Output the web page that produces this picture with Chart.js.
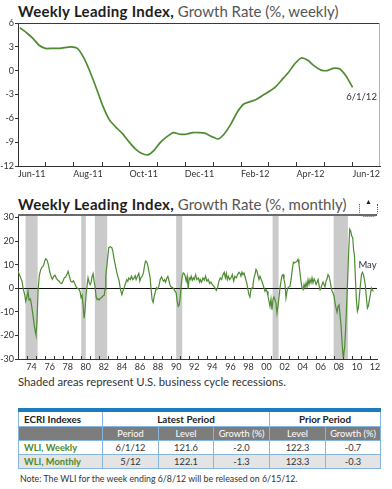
<!DOCTYPE html>
<html>
<head>
<meta charset="utf-8">
<script src="https://cdn.jsdelivr.net/npm/chart.js@4.4.1/dist/chart.umd.min.js"></script>
<style>
  body { margin: 0; width: 392px; height: 489px; background: #fff; position: relative; overflow: hidden; font-family: Lato, "Open Sans", sans-serif; }
  .title { position: absolute; left: 18px; font-size: 15px; color: #555; white-space: nowrap; line-height: 18px; }
  .title b { color: #1d1d1d; font-weight: 700; letter-spacing: 0.3px; }
  canvas { position: absolute; left: 0; }
  #cap { position: absolute; left: 18px; top: 375px; font-size: 11.3px; color: #333; white-space: nowrap; }
  #badge { position: absolute; left: 359px; top: 204px; width: 17px; height: 12px; border: 1px dotted #555; border-top: none; border-radius: 0 0 5px 5px; }
  #badge span { position: absolute; left: 5px; top: -7px; font-size: 7px; color: #222; }
  table { position: absolute; left: 18px; top: 408px; width: 362px; border-collapse: collapse; table-layout: fixed; font-size: 9.3px; color: #333; border-top: 4px solid #1b7bc4; }
  td { border: 1px solid #86b6de; text-align: center; padding: 0; height: 13px; }
  tr.h1 td { font-weight: 700; font-size: 9.8px; color: #222; height: 14px; }
  tr.h2 td { background: #7d7d7d; color: #fff; }
  tr.r2 td { background: #e4e4e4; }
  td.nm { text-align: left; padding-left: 5px; font-weight: 700; color: #4c8a2e; }
  tr.h1 td.nm { color: #222; }
  #note { position: absolute; left: 20px; top: 473px; font-size: 8.8px; color: #333; white-space: nowrap; }
</style>
</head>
<body>
<div class="title" style="top:1.5px"><b>Weekly Leading Index,</b> Growth Rate (%, weekly)</div>
<canvas id="weekly" width="392" height="182" style="top:0"></canvas>

<div class="title" style="top:194.5px"><b>Weekly Leading Index,</b> Growth Rate (%, monthly)</div>
<canvas id="monthly" width="392" height="182" style="top:190px"></canvas>
<div id="badge"><span>&#9650;</span></div>

<div id="cap">Shaded areas represent U.S. business cycle recessions.</div>

<table>
  <colgroup><col style="width:84px"><col style="width:56px"><col style="width:55px"><col style="width:56px"><col style="width:56px"><col style="width:55px"></colgroup>
  <tr class="h1"><td class="nm">ECRI Indexes</td><td colspan="3">Latest Period</td><td colspan="2">Prior Period</td></tr>
  <tr class="h2"><td></td><td>Period</td><td>Level</td><td>Growth (%)</td><td>Level</td><td>Growth (%)</td></tr>
  <tr class="r1"><td class="nm">WLI, Weekly</td><td>6/1/12</td><td>121.6</td><td>-2.0</td><td>122.3</td><td>-0.7</td></tr>
  <tr class="r2"><td class="nm">WLI, Monthly</td><td>5/12</td><td>122.1</td><td>-1.3</td><td>123.3</td><td>-0.3</td></tr>
</table>
<div id="note">Note: The WLI for the week ending 6/8/12 will be released on 6/15/12.</div>

<script>
// weekly growth rate, one value per week starting 6/3/11
const weeklyStart = [2011, 5, 3];
const weeklyValues = [5.4, 4.8, 4.1, 3.2, 2.8, 2.8, 2.8, 2.9, 3.0, 2.8, 1.6, -0.2, -2.3, -4.5, -6.2, -7.1, -7.9, -8.9,
  -9.8, -10.4, -10.6, -10.0, -9.0, -8.3, -7.8, -8.0, -8.0, -7.8, -7.8, -7.9, -8.3, -8.6, -7.9, -6.7, -5.2, -4.2,
  -3.9, -3.6, -3.1, -2.6, -2.0, -1.1, -0.2, 0.9, 1.6, 1.3, 0.6, 0.1, 0.0, 0.3, 0.2, -0.7, -2.1];
const weeklyMonthLabels = ['Jun-11', 'Aug-11', 'Oct-11', 'Dec-11', 'Feb-12', 'Apr-12', 'Jun-12'];
const weeklyYTicks = [-12, -9, -6, -3, 0, 3, 6];
const weeklyEndLabel = '6/1/12';

// monthly growth rate (decimal year, value)
const monthlyYears = [1973.00, 1973.15, 1973.30, 1973.44, 1973.59, 1973.74, 1973.85, 1974.00, 1974.11, 1974.22, 1974.37,
  1974.51, 1974.66, 1974.81, 1974.92, 1974.99, 1975.10, 1975.22, 1975.36, 1975.51, 1975.66, 1975.81, 1975.95, 1976.06,
  1976.21, 1976.36, 1976.51, 1976.66, 1976.80, 1976.95, 1977.10, 1977.25, 1977.39, 1977.54, 1977.69, 1977.84, 1977.99,
  1978.13, 1978.28, 1978.43, 1978.54, 1978.69, 1978.83, 1978.98, 1979.13, 1979.28, 1979.43, 1979.57, 1979.72, 1979.87,
  1979.98, 1980.09, 1980.20, 1980.31, 1980.42, 1980.53, 1980.64, 1980.75, 1980.87, 1980.98, 1981.09, 1981.20, 1981.31,
  1981.42, 1981.53, 1981.64, 1981.75, 1981.86, 1981.97, 1982.08, 1982.23, 1982.38, 1982.53, 1982.64,
  1982.71, 1982.90, 1983.04, 1983.23, 1983.38, 1983.49, 1983.60, 1983.75, 1983.90, 1984.04, 1984.19, 1984.34, 1984.49,
  1984.59, 1984.74, 1984.89, 1985.04, 1985.15, 1985.26, 1985.41, 1985.56, 1985.70, 1985.85, 1985.96, 1986.07, 1986.22,
  1986.37, 1986.48, 1986.59, 1986.74, 1986.88, 1986.99, 1987.11, 1987.25, 1987.36, 1987.48, 1987.62, 1987.73, 1987.84,
  1987.95, 1988.07, 1988.21, 1988.32, 1988.44, 1988.59, 1988.73, 1988.88, 1988.99, 1989.10, 1989.21, 1989.32, 1989.47,
  1989.58, 1989.69, 1989.80, 1989.91, 1990.06, 1990.17, 1990.28, 1990.39, 1990.50, 1990.61, 1990.73, 1990.84, 1990.95,
  1991.06, 1991.17, 1991.28, 1991.39, 1991.50, 1991.61, 1991.72, 1991.83, 1991.94, 1992.05, 1992.16, 1992.28, 1992.39,
  1992.50, 1992.65, 1992.79, 1992.94, 1993.09,
  1993.16, 1993.31, 1993.46, 1993.61, 1993.75, 1993.90, 1994.05, 1994.20, 1994.34, 1994.49, 1994.64, 1994.79, 1994.94,
  1995.08, 1995.23, 1995.38, 1995.53, 1995.68, 1995.82, 1995.94, 1996.05, 1996.16, 1996.27, 1996.41, 1996.56, 1996.71,
  1996.86, 1997.00, 1997.15, 1997.30, 1997.45, 1997.56, 1997.67, 1997.78, 1997.89, 1998.00, 1998.11, 1998.22, 1998.33,
  1998.44, 1998.55, 1998.66, 1998.77, 1998.89, 1999.00, 1999.11, 1999.22, 1999.33, 1999.44, 1999.55, 1999.66, 1999.77,
  1999.88, 1999.99, 2000.10, 2000.21, 2000.33, 2000.44, 2000.55, 2000.66, 2000.77, 2000.88, 2000.99, 2001.10, 2001.21,
  2001.32, 2001.43, 2001.54, 2001.65, 2001.77, 2001.88, 2001.99, 2002.10, 2002.21, 2002.32, 2002.43, 2002.54, 2002.65,
  2002.76, 2002.87, 2002.98,
  2003.10, 2003.24, 2003.35, 2003.47, 2003.61, 2003.76, 2003.87, 2003.98, 2004.09, 2004.20, 2004.31, 2004.43, 2004.54,
  2004.65, 2004.76, 2004.87, 2004.98, 2005.09, 2005.20, 2005.31, 2005.42, 2005.53, 2005.64, 2005.76, 2005.87, 2005.98,
  2006.09, 2006.20, 2006.31, 2006.42, 2006.53, 2006.64, 2006.75, 2006.86, 2006.97, 2007.08, 2007.19, 2007.30, 2007.41,
  2007.53, 2007.64, 2007.75, 2007.86, 2007.97, 2008.08, 2008.19, 2008.30, 2008.41, 2008.52, 2008.63, 2008.75, 2008.86,
  2008.97, 2009.04, 2009.15, 2009.26, 2009.37, 2009.48, 2009.59, 2009.70, 2009.81, 2009.92, 2010.03, 2010.14, 2010.22,
  2010.33, 2010.44, 2010.55, 2010.66, 2010.77, 2010.89, 2011.00, 2011.11, 2011.22, 2011.33, 2011.44, 2011.55, 2011.66,
  2011.77, 2011.88, 2011.99, 2012.10, 2012.21, 2012.33];
const monthlyValues = [7.3, 5.8, 4.4, 3.0, -0.5, -2.7, -5.5, -3.5, -1.3, -5.0, -4.5,
  -7.5, -11.5, -16, -18.5, -19.8, -14, -1.0, 5.5, 7.8, 9.0, 9.5, 11.5, 12.5,
  12.0, 10, 7, 5, 3.8, 5, 5.5, 4.2, 3.5, 3.0, 2.2, 2.0, 3.2,
  4.5, 4.8, 6, 7.2, 5, 3, 2.6, 3.2, 2, 0.6, 0, -0.3, -1.5,
  -4.0, -3.0, -7, -12.7, -9, -2.5, 1, 4.4, 2.5, 1.5, 2.5, 5, 6.2,
  3, 0.5, -3.5, -4.8, -4.5, -5.0, -4.3, -4, -3.3, -3, -0.5,
  5.1, 12.2, 17.2, 17.6, 17.2, 15.8, 13, 10.1, 7.3, 5.1, 3.0, -0.6, -2.7,
  -1.3, 0.2, 2, 3.7, 3, 4.4, 3.7, 5.1, 3.7, 4.4, 5.4, 3.7, 5.1,
  6.3, 3, 4.4, 5.1, 6.5, 9.4, 11.5, 11.1, 9.7, 7.3, 4.4, -0.6, -4.8,
  -6, -3.4, -1.3, 0.2, -0.3, 0.9, 3.7, 4.8, 3.7, 3, 3.7, 2.6, 4.4,
  5.1, 3.4, 1.6, 0.6, 0.4, 0, -0.6, -1.3, -2, -5.5, -7.7, -7, -3.7,
  1.6, 5.1, 6.5, 6.2, 5.1, 3, 5.1, -0.3, 4.4, 3.7, 5.1, 3.4, 4.4,
  3.7, 5.8, 3.7, 4.4, 2.6,
  3.7, 2.6, 4.4, 3.4, 5.1, 3, 3.7, 2, 2.6, 1.6, 0.9, 0.2, -0.9,
  0.2, 3, 4.4, 3.7, 5.8, 6.8, 4.4, 6.3, 3.7, 5.1, 3.7, 4.4, 5.8,
  3, 5.1, 4.4, 5.8, 6.8, 6.3, 5.1, 6.8, 5.8, 6.5, 5.1, 3.4, 2,
  -0.6, -2.7, -3.7, -0.6, 0.2, 1.6, 4.4, 5.8, 8, 7.3, 5.4, 3.7, 5.1,
  4, 3, 1.6, 0.2, -1.3, -0.6, -1.3, -3.4, -5.5, -7.7, -4.5, -9.1, -4.8,
  -3.7, -4.8, -6.3, -10.5, -7.4, -3.7, 0.2, 3, 5.4, 5.8, 3.7, 1.6, -4.1,
  -1.3, 0.2, 0.6,
  0.9, 4.4, 8, 11.1, 10.8, 11.1, 11.5, 12.2, 10.1, 6.5, 3, 0.1, -0.6,
  1.6, 0.2, 2.3, 0.6, 3.7, 1.6, 3.7, 2.3, 4.4, 2.3, 4, 3, 1.6,
  2.6, 3.7, 1.2, -0.6, 0.2, 1.6, 2.6, 1.6, 0.6, 3, 4, 5.8, 5.1,
  3, 0.6, -1.3, -2, -3.4, -6.3, -8.4, -10.2, -7.7, -7, -11.2, -16.2, -23.3,
  -29, -27.9, -24.8, -16.2, -6.3, 4.4, 15.8, 25, 24.3, 22.2, 21.5, 15.8, 14.4,
  4.4, -4.8, -9.8, -8.4, -3.4, 1.6, 5.8, 6.8, 5.8, 3.7, 0.9, -4.1, -8.4,
  -7.4, -4.8, -2.7, 0.1, -0.8, -1.3];
const recessionStarts = [1973.83, 1980.0, 1981.5, 1990.5, 2001.17, 2007.92];
const recessionEnds = [1975.17, 1980.5, 1982.87, 1991.17, 2001.83, 2009.5];
const monthlyYTicks = [-30, -20, -10, 0, 10, 20, 30];
const monthlyEndLabel = 'May';

const green = '#4d8c31';
const tickFont = { family: 'Lato, sans-serif', size: 9 };
const dayMs = 86400000;
const dayNum = (y, m, d) => Date.UTC(y, m, d) / dayMs;

// frame, shading and end labels
const decorPlugin = {
  id: 'decor',
  beforeDraw(chart, args, o) {
    if (!o.shadeStarts) return;
    const { ctx, chartArea: a } = chart;
    const xs = chart.scales.x;
    ctx.save();
    ctx.fillStyle = '#cacaca';
    o.shadeStarts.forEach((s, i) => {
      const x1 = xs.getPixelForValue(s), x2 = xs.getPixelForValue(o.shadeEnds[i]);
      ctx.fillRect(x1, a.top + o.topWidth, x2 - x1, a.bottom - a.top - o.topWidth);
    });
    ctx.restore();
  },
  afterDraw(chart, args, o) {
    const { ctx, chartArea: a } = chart;
    ctx.save();
    ctx.strokeStyle = o.topColor;
    ctx.lineWidth = o.topWidth;
    ctx.beginPath();
    ctx.moveTo(a.left, a.top + o.topWidth / 2);
    ctx.lineTo(a.right, a.top + o.topWidth / 2);
    ctx.stroke();
    if (o.rightColor) {
      ctx.strokeStyle = o.rightColor;
      ctx.lineWidth = 1;
      ctx.beginPath();
      ctx.moveTo(a.right - 0.5, a.top);
      ctx.lineTo(a.right - 0.5, a.bottom);
      ctx.stroke();
    }
    // label near the last point
    const pts = chart.getDatasetMeta(0).data;
    const last = pts[pts.length - 1];
    ctx.fillStyle = '#2f2f45';
    ctx.font = '9.5px Lato, sans-serif';
    ctx.textAlign = 'center';
    ctx.textBaseline = 'middle';
    const ly = o.labelValue !== undefined ? chart.scales.y.getPixelForValue(o.labelValue) : last.y + o.labelDy;
    ctx.fillText(o.label, last.x + o.labelDx, ly);
    ctx.restore();
  }
};

// ---- weekly chart ----
const wkStart = dayNum(2011, 5, 1), wkEnd = dayNum(2012, 6, 1);
const wkFirst = dayNum(weeklyStart[0], weeklyStart[1], weeklyStart[2]);
const weeklyPoints = weeklyValues.map((v, i) => ({ x: wkFirst + 7 * i, y: v }));

new Chart(document.getElementById('weekly'), {
  type: 'line',
  data: { datasets: [{ data: weeklyPoints, borderColor: green, borderWidth: 1.7, pointRadius: 0, tension: 0.2 }] },
  plugins: [decorPlugin],
  options: {
    responsive: false, animation: false,
    layout: { padding: { top: 23, right: 12, left: 0, bottom: 0 } },
    plugins: {
      legend: { display: false }, tooltip: { enabled: false },
      decor: { topColor: '#3a3a3a', topWidth: 1, rightColor: '#b5b5b5', label: weeklyEndLabel, labelDx: 9, labelDy: 10 }
    },
    scales: {
      x: {
        type: 'linear', min: wkStart, max: wkEnd,
        afterFit: s => { s.height = 16; },
        afterBuildTicks: s => {
          const t = [];
          for (let m = 0; m <= 13; m++) t.push({ value: dayNum(2011, 5 + m, 1), edge: true });
          weeklyMonthLabels.forEach((lab, k) => {
            const c = (dayNum(2011, 5 + 2 * k, 1) + dayNum(2011, 6 + 2 * k, 1)) / 2;
            t.push({ value: c, name: lab });
          });
          t.sort((p, q) => p.value - q.value);
          s.ticks = t;
        },
        ticks: {
          autoSkip: false, maxRotation: 0, padding: 7, color: '#333', font: tickFont,
          callback: function (v, i, ticks) { return ticks[i].name || ''; }
        },
        grid: {
          drawOnChartArea: false, tickLength: -4, tickWidth: 1,
          tickColor: c => (c.tick && c.tick.edge && c.tick.value > wkStart && c.tick.value < wkEnd) ? '#333' : 'rgba(0,0,0,0)'
        },
        border: { color: '#333', width: 1 }
      },
      y: {
        min: -12, max: 6,
        afterFit: s => { s.width = 18; },
        afterBuildTicks: s => { s.ticks = weeklyYTicks.map(v => ({ value: v })); },
        ticks: { padding: 1, color: '#333', font: tickFont },
        grid: { drawOnChartArea: false, tickLength: 3, tickColor: '#333' },
        border: { color: '#333', width: 1 }
      }
    }
  }
});

// ---- monthly chart ----
const moMin = 1973.0, moMax = 2012.72;
const monthlyPoints = monthlyYears.map((x, i) => ({ x: x, y: monthlyValues[i] }));

new Chart(document.getElementById('monthly'), {
  type: 'line',
  data: { datasets: [{ data: monthlyPoints, borderColor: green, borderWidth: 1.2, pointRadius: 0, tension: 0 }] },
  plugins: [decorPlugin],
  options: {
    responsive: false, animation: false,
    layout: { padding: { top: 24, right: 15, left: 0, bottom: 0 } },
    plugins: {
      legend: { display: false }, tooltip: { enabled: false },
      decor: {
        topColor: '#6a6a6a', topWidth: 2, shadeStarts: recessionStarts, shadeEnds: recessionEnds,
        label: monthlyEndLabel, labelDx: -6, labelValue: 10
      }
    },
    scales: {
      x: {
        type: 'linear', min: moMin, max: moMax,
        afterFit: s => { s.height = 13; },
        afterBuildTicks: s => {
          const t = [];
          for (let y = 1974; y <= 2012; y++) {
            t.push({ value: y, edge: true });
            if (y % 2 === 0) t.push({ value: y + 0.5, name: String(y % 100).padStart(2, '0') });
          }
          s.ticks = t;
        },
        ticks: {
          autoSkip: false, maxRotation: 0, padding: 6, color: '#333', font: tickFont,
          callback: function (v, i, ticks) { return ticks[i].name || ''; }
        },
        grid: {
          drawOnChartArea: false, tickLength: -3, tickWidth: 1,
          tickColor: c => (c.tick && c.tick.edge) ? '#333' : 'rgba(0,0,0,0)'
        },
        border: { color: '#333', width: 1 }
      },
      y: {
        min: -30, max: 31.5,
        afterFit: s => { s.width = 18; },
        afterBuildTicks: s => { s.ticks = monthlyYTicks.map(v => ({ value: v })); },
        ticks: { padding: 1, color: '#333', font: tickFont },
        grid: {
          drawOnChartArea: true, tickLength: 3, tickColor: '#333', lineWidth: 1,
          color: c => (c.tick && c.tick.value === 0) ? '#111' : 'rgba(0,0,0,0)'
        },
        border: { color: '#333', width: 1 }
      }
    }
  }
});
</script>
</body>
</html>
